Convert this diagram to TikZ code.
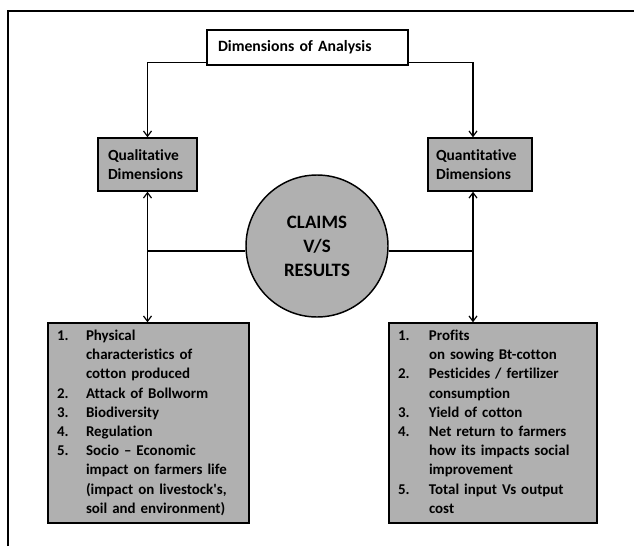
\documentclass[tikz,border=0pt]{standalone}
\usepackage{fontspec}
\setmainfont{Carlito}[Ligatures=NoCommon]
\usetikzlibrary{arrows.meta,shapes.geometric}
\definecolor{boxgray}{RGB}{176,176,176}
\begin{document}
\begin{tikzpicture}[x=0.75pt,y=-0.75pt,
  frameline/.style={line width=1.5pt},
  conn/.style={line width=0.9pt},
  arr/.style={conn,-{Straight Barb[length=4pt,width=6pt,line width=0.9pt]}},
  darr/.style={conn,{Straight Barb[length=4pt,width=6pt,line width=0.9pt]}-{Straight Barb[length=4pt,width=6pt,line width=0.9pt]}},
  basebox/.style={draw,line width=1.1pt,rectangle,inner ysep=0pt,align=left},
  graybox/.style={basebox,fill=boxgray},
  listbox/.style={graybox,inner xsep=6.75pt,font=\fontsize{11.2}{14.4}\selectfont\bfseries}
]
\useasboundingbox (0,0) rectangle (634,546);
\draw[frameline] (8,546) -- (8,11) -- (634,11);

\node[basebox,fill=white,inner xsep=8.25pt,text width=134.25pt,minimum height=26.25pt,
  font=\fontsize{11.8}{14}\selectfont\bfseries] (dim) at (307.5,47.5) {Dimensions of Analysis};

\node[graybox,inner xsep=7.5pt,text width=59.25pt,minimum height=39.75pt,
  font=\fontsize{11.6}{14.2}\selectfont\bfseries] (qual) at (147.5,164.5) {Qualitative\\Dimensions};
\node[graybox,inner xsep=6pt,text width=66pt,minimum height=39.75pt,
  font=\fontsize{11.6}{14.2}\selectfont\bfseries] (quant) at (480,164.5) {Quantitative\\Dimensions};

\node[circle,draw,line width=1.1pt,fill=boxgray,minimum size=106.5pt,inner sep=0pt,align=center,
  font=\fontsize{14.2}{18}\selectfont\bfseries] (claims) at (317,246) {CLAIMS\\V/S\\RESULTS};

\node[listbox,text width=137.25pt,minimum height=150pt] (ql) at (148.5,423) {\noindent\begin{tabular}{@{}p{21.75pt}@{}l@{}}
1. & Physical\\
 & characteristics of\\
 & cotton produced\\
2. & Attack of Bollworm\\
3. & Biodiversity\\
4. & Regulation\\
5. & Socio – Economic\\
 & impact on farmers life\\
 & (impact on livestock\textquotesingle s,\\
 & soil and environment)
\end{tabular}};

\node[listbox,text width=142.5pt,minimum height=150pt] (qr) at (493,423) {\noindent\begin{tabular}{@{}p{23.25pt}@{}l@{}}
1. & Profits\\
 & on sowing Bt-cotton\\
2. & Pesticides / fertilizer\\
 & consumption\\
3. & Yield of cotton\\
4. & Net return to farmers\\
 & how its impacts social\\
 & improvement\\
5. & Total input Vs output\\
 & cost
\end{tabular}};

\coordinate (rx) at (473,0);
\coordinate (dl) at ([yshift=2.25pt]dim.south west);
\coordinate (dr) at ([yshift=2.25pt]dim.south east);

\draw[arr] (dl) -| (qual.north);
\draw[arr] (dr) -| (rx |- quant.north);

\draw[darr] (qual.south) -- (qual.south |- ql.north);
\draw[darr] (rx |- quant.south) -- (rx |- qr.north);

\draw[conn] (claims.184) -- (claims.184 -| qual.south);
\draw[conn] (claims.-4) -- (claims.-4 -| rx);
\end{tikzpicture}
\end{document}
